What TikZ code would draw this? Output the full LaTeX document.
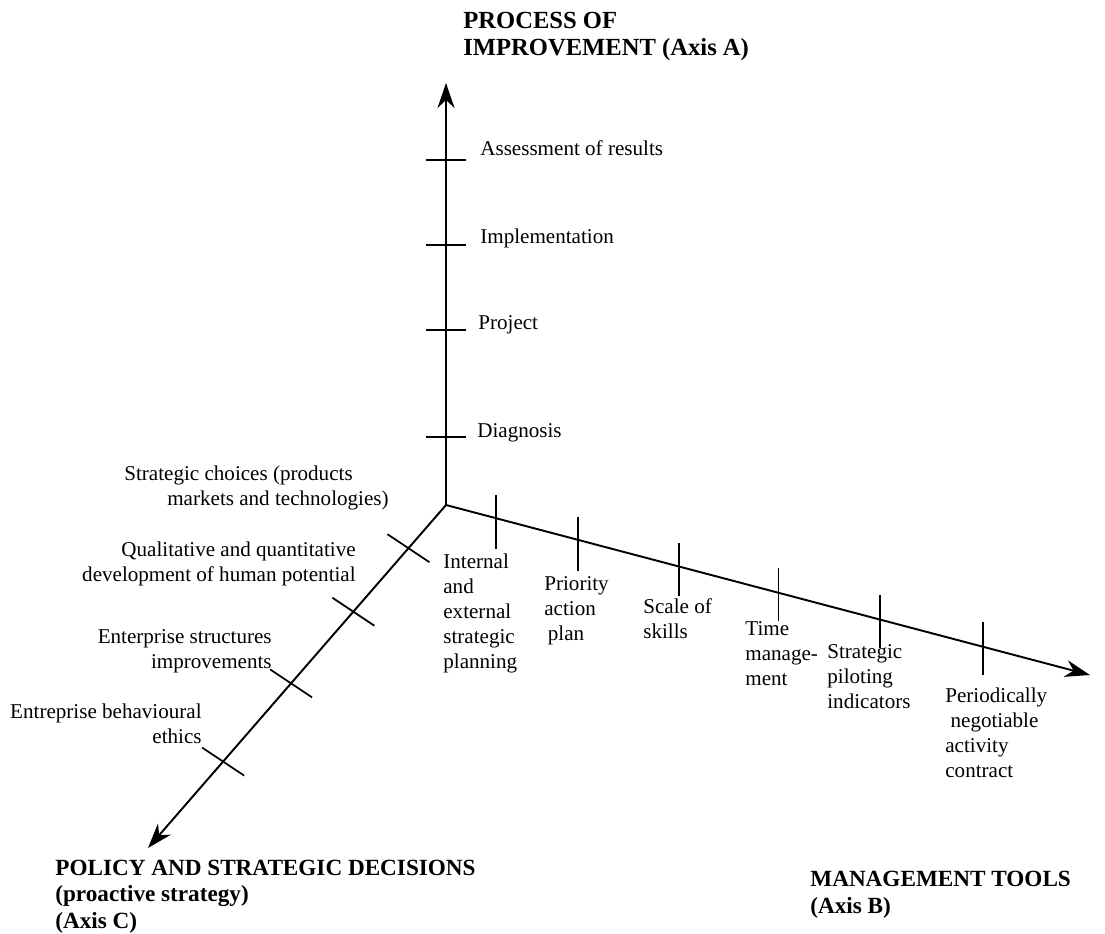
\documentclass[tikz,border=0pt]{standalone}
\usepackage{fontspec}
\setmainfont{Liberation Serif}
\usetikzlibrary{arrows.meta, positioning, calc}

\begin{document}
\begin{tikzpicture}[
    % Global Styles (1 unit = 1 pixel of the layout)
    x=0.02cm, y=-0.02cm,
    font=\fontsize{12}{14.2}\selectfont,
    % Axis and tick styles
    axis/.style={
        draw=black,
        line width=1.1pt,
        -{Stealth[length=5mm,width=3.4mm,inset=1.6mm]}
    },
    tick/.style={
        draw=black,
        line width=1pt
    },
    % Label styles (base anchor = baseline of the last line)
    item/.style={
        inner sep=0pt,
        align=left,
        anchor=base west
    },
    itemr/.style={
        inner sep=0pt,
        align=right,
        anchor=base east
    },
    title/.style={
        inner sep=0pt,
        align=left,
        anchor=base west,
        font=\fontsize{13.2}{15}\selectfont\bfseries
    }
]
    \useasboundingbox (0,0) rectangle (1105,933);

    % --- Axes ---
    \coordinate (origin) at (446,505);
    \coordinate (tipA) at (446,83);
    \coordinate (tipB) at (1090,675);
    \coordinate (tipC) at (148,848);

    \draw[axis] (origin) -- (tipA);
    \draw[axis] (origin) -- (tipB);
    \draw[axis] (origin) -- (tipC);

    % --- Axis A: process of improvement ---
    \coordinate (diag) at (446,437);
    \coordinate (proj) at (446,330);
    \coordinate (impl) at (446,245);
    \coordinate (assess) at (446,160);

    \draw[tick] ($(diag)+(-20,0)$) -- ($(diag)+(20,0)$);
    \draw[tick] ($(proj)+(-20,0)$) -- ($(proj)+(20,0)$);
    \draw[tick] ($(impl)+(-20,0)$) -- ($(impl)+(20,0)$);
    \draw[tick] ($(assess)+(-20,0)$) -- ($(assess)+(20,0)$);

    \node[item] (assessLbl) at (480,155) {Assessment of results};
    \node[item] (implLbl) at (480,243) {Implementation};
    \node[item] (projLbl) at (478,329) {Project};
    \node[item] (diagLbl) at (477,437) {Diagnosis};

    \node[title, font=\fontsize{14}{14.8}\selectfont\bfseries] (titleA) at (463,55) {PROCESS OF\\IMPROVEMENT (Axis A)};

    % --- Axis B: management tools ---
    \coordinate (planning) at ($(origin)!0.0775!(tipB)$);
    \coordinate (priority) at ($(origin)!0.2047!(tipB)$);
    \coordinate (skills) at ($(origin)!0.3612!(tipB)$);
    \coordinate (time) at ($(origin)!0.5163!(tipB)$);
    \coordinate (piloting) at ($(origin)!0.6744!(tipB)$);
    \coordinate (contract) at ($(origin)!0.8340!(tipB)$);

    \draw[tick] ($(planning)+(0,-23)$) -- ($(planning)+(0,31)$);
    \draw[tick] ($(priority)+(0,-23)$) -- ($(priority)+(0,31)$);
    \draw[tick] ($(skills)+(0,-23)$) -- ($(skills)+(0,30)$);
    \draw[tick] ($(time)+(0,-25)$) -- ($(time)+(0,28)$);
    \draw[tick] ($(piloting)+(0,-25)$) -- ($(piloting)+(0,28)$);
    \draw[tick] ($(contract)+(0,-25)$) -- ($(contract)+(0,28)$);

    \node[item] (planningLbl) at (443,668) {Internal\\and\\external\\strategic\\planning};
    \node[item] (priorityLbl) at (544,640) {Priority\\action\\\hspace*{2pt}plan};
    \node[item] (skillsLbl) at (643,638) {Scale of\\skills};
    \node[item] (timeLbl) at (745,685) {Time\\manage-\\ment};
    \node[item] (pilotingLbl) at (827,708) {Strategic\\piloting\\indicators};
    \node[item] (contractLbl) at (945,777) {Periodically\\\hspace*{3pt}negotiable\\activity\\contract};

    \node[title] (titleB) at (810,913) {MANAGEMENT TOOLS\\(Axis B)};

    % --- Axis C: policy and strategic decisions ---
    \coordinate (potential) at ($(origin)!0.126!(tipC)$);
    \coordinate (structures) at ($(origin)!0.311!(tipC)$);
    \coordinate (ethics) at ($(origin)!0.520!(tipC)$);
    \coordinate (behaviour) at ($(origin)!0.748!(tipC)$);

    \draw[tick] ($(potential)+(-21,-14)$) -- ($(potential)+(21,14)$);
    \draw[tick] ($(structures)+(-21,-14)$) -- ($(structures)+(21,14)$);
    \draw[tick] ($(ethics)+(-21,-14)$) -- ($(ethics)+(21,14)$);
    \draw[tick] ($(behaviour)+(-21,-14)$) -- ($(behaviour)+(21,14)$);

    \node[item] (choicesLbl) at (124,505) {Strategic choices (products\\\hspace*{0.86cm}markets and technologies)};
    \node[itemr] (potentialLbl) at (356,581) {Qualitative and quantitative\\development of human potential};
    \node[itemr] (structuresLbl) at (272,668) {Enterprise structures\\improvements};
    \node[itemr] (ethicsLbl) at (202,743) {Entreprise behavioural\\ethics};

    \node[title] (titleC) at (55,928) {POLICY AND STRATEGIC DECISIONS\\(proactive strategy)\\(Axis C)};

\end{tikzpicture}
\end{document}
